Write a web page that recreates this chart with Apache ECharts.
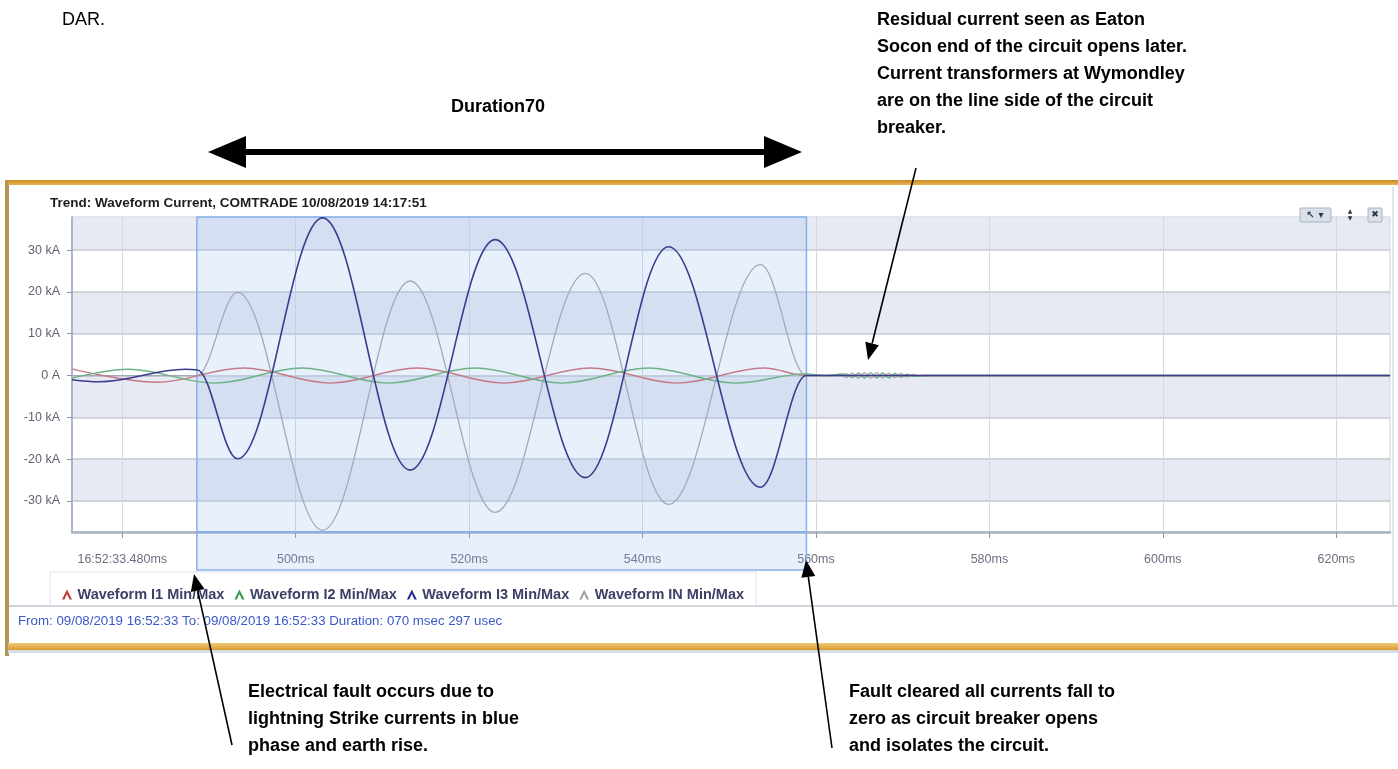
<!DOCTYPE html>
<html>
<head>
<meta charset="utf-8">
<script src="https://cdn.jsdelivr.net/npm/echarts@6/dist/echarts.min.js"></script>
<style>
html,body{margin:0;padding:0;background:#ffffff;}
#chart{width:1398px;height:769px;}
</style>
</head>
<body>
<div id="chart"></div>
<script>
// ---------- data (peaks / troughs, ms after 16:52:33, kA) ----------
const X_MIN = 474.2, X_MAX = 626.2;
const Y_MIN = -37.4, Y_MAX = 37.9;
const xTicks = [480, 500, 520, 540, 560, 580, 600, 620];
const xTickLabels = ['16:52:33.480ms', '500ms', '520ms', '540ms', '560ms', '580ms', '600ms', '620ms'];
const yTicks = [-30, -20, -10, 0, 10, 20, 30];
const yTickLabels = ['-30 kA', '-20 kA', '-10 kA', '0 A', '10 kA', '20 kA', '30 kA'];
const bandRanges = [[30, Y_MAX], [10, 20], [-10, 0], [-30, -20]];
const selectionRange = [488.6, 558.9];       // 070 msec 297 usec
const seriesNames = ['Waveform I1 Min/Max', 'Waveform I2 Min/Max', 'Waveform I3 Min/Max', 'Waveform IN Min/Max'];

const i1Times = [474.2, 484, 494, 504, 514, 524, 534, 544, 554, 558.9, 626.2];
const i1Values = [1.6, -1.6, 1.8, -1.8, 1.8, -1.8, 1.8, -1.8, 1.8, 0, 0];

const i2Times = [474.2, 480.7, 490.7, 500.7, 510.7, 520.7, 530.7, 540.7, 550.7, 558.9, 561, 563.5, 564.2, 564.9, 565.6, 566.3, 567.0, 567.7, 568.4, 569.1, 569.8, 570.5, 571.2, 572.5, 626.2];
const i2Values = [-0.6, 1.5, -1.8, 1.8, -1.8, 1.8, -1.8, 1.8, -1.8, 0.4, 0, 0.4, -0.5, 0.6, -0.6, 0.7, -0.6, 0.6, -0.6, 0.5, -0.4, 0.3, -0.2, 0, 0];

const i3Times = [474.2, 477.3, 487.3, 488.6, 493.3, 503.1, 513.2, 523.0, 533.4, 543.0, 553.6, 558.9, 626.2];
const i3Values = [-1.0, -1.5, 1.5, 1.4, -19.9, 37.7, -22.6, 32.5, -24.4, 30.8, -26.7, 0, 0];

const inTimes = [474.2, 488.6, 493.3, 503.1, 513.2, 523.0, 533.4, 543.0, 553.6, 558.9, 562, 562.8, 563.5, 564.2, 564.9, 565.6, 566.3, 567.0, 567.7, 568.4, 569.1, 569.8, 570.5, 571.2, 571.9, 573, 626.2];
const inValues = [0, 0, 19.9, -37.0, 22.6, -32.7, 24.4, -30.8, 26.5, 0, 0, 0.4, -0.5, 0.6, -0.7, 0.7, -0.7, 0.7, -0.6, 0.6, -0.5, 0.5, -0.4, 0.3, -0.2, 0, 0];

// ---------- styles ----------
const FONT = '"Liberation Sans", Arial, sans-serif';
const lineColors = ['#c47a88', '#6db287', '#3b3c8e', '#a6a8b8'];
const iconColors = ['#c0392b', '#2f9e4f', '#2b2d8a', '#a3a3a3'];
const lineWidths = [1.4, 1.4, 1.6, 1.3];
const zOrder = [5, 5, 6, 4];

function pairs(ts, vs) { return ts.map((t, i) => [t, vs[i]]); }
const waveData = [pairs(i1Times, i1Values), pairs(i2Times, i2Values), pairs(i3Times, i3Values), pairs(inTimes, inValues)];

const waveSeries = seriesNames.map((name, k) => ({
  name: name,
  type: 'line',
  xAxisIndex: 0, yAxisIndex: 0,
  data: waveData[k],
  showSymbol: false,
  smooth: 0.3634,
  smoothMonotone: 'x',
  z: zOrder[k],
  itemStyle: { color: iconColors[k] },
  lineStyle: { color: lineColors[k], width: lineWidths[k] },
  emphasis: { disabled: true },
  silent: true
}));

const bandSeries = {
  name: 'bands', type: 'line', xAxisIndex: 0, yAxisIndex: 0,
  data: [[X_MIN, 0]], showSymbol: false, lineStyle: { width: 0 }, silent: true, z: 1,
  markArea: {
    silent: true, z: 1,
    itemStyle: { color: 'rgba(216,221,234,0.62)' },
    data: bandRanges.map(r => [{ yAxis: r[0] }, { yAxis: r[1] }])
  }
};
const selStyle = { color: 'rgba(138,182,238,0.20)', borderColor: '#86b0ea', borderWidth: 1.5 };
const selSeries = {
  name: 'selection', type: 'line', xAxisIndex: 0, yAxisIndex: 0,
  data: [[X_MIN, 0]], showSymbol: false, lineStyle: { width: 0 }, silent: true, z: 3,
  markArea: { silent: true, z: 3, itemStyle: selStyle, data: [[{ xAxis: selectionRange[0] }, { xAxis: selectionRange[1] }]] }
};
const selSeries2 = {
  name: 'selection2', type: 'line', xAxisIndex: 1, yAxisIndex: 1,
  data: [[X_MIN, 0]], showSymbol: false, lineStyle: { width: 0 }, silent: true, z: 3,
  markArea: { silent: true, z: 3, itemStyle: selStyle, data: [[{ xAxis: selectionRange[0] }, { xAxis: selectionRange[1] }]] }
};

// ---------- annotation graphics ----------
const ANN = 'bold 18px "Liberation Sans", Arial, sans-serif';
function arrowHead(tip, from, len, half) {
  const dx = tip[0] - from[0], dy = tip[1] - from[1];
  const L = Math.sqrt(dx * dx + dy * dy), ux = dx / L, uy = dy / L;
  const bx = tip[0] - ux * len, by = tip[1] - uy * len;
  return { base: [bx, by], pts: [tip, [bx - uy * half, by + ux * half], [bx + uy * half, by - ux * half]] };
}
function thinArrow(from, tip) {
  const h = arrowHead(tip, from, 17, 7);
  return [
    { type: 'line', shape: { x1: from[0], y1: from[1], x2: h.base[0], y2: h.base[1] }, style: { stroke: '#000', lineWidth: 1.6 }, z: 100 },
    { type: 'polygon', shape: { points: h.pts }, style: { fill: '#000' }, z: 100 }
  ];
}

const graphics = [
  // panel frame
  { type: 'rect', shape: { x: 9, y: 185, width: 1389, height: 458 }, style: { fill: '#ffffff' }, z: -10 },
  { type: 'rect', shape: { x: 5, y: 180, width: 4, height: 476 }, style: { fill: '#b39558' }, z: 50 },
  { type: 'rect', shape: { x: 8, y: 180, width: 1390, height: 5 },
    style: { fill: new echarts.graphic.LinearGradient(0, 0, 0, 1, [{ offset: 0, color: '#c98a1e' }, { offset: 1, color: '#e8b45a' }]) }, z: 50 },
  { type: 'rect', shape: { x: 8, y: 643, width: 1390, height: 7 },
    style: { fill: new echarts.graphic.LinearGradient(0, 0, 0, 1, [{ offset: 0, color: '#f0c878' }, { offset: 1, color: '#d99a2e' }]) }, z: 50 },
  { type: 'rect', shape: { x: 8, y: 650, width: 1390, height: 3 }, style: { fill: '#d3dde6' }, z: 50 },
  { type: 'line', shape: { x1: 9, y1: 606, x2: 1398, y2: 606 }, style: { stroke: '#cfd3dc', lineWidth: 2 }, z: 50 },
  { type: 'line', shape: { x1: 1393, y1: 187, x2: 1393, y2: 606 }, style: { stroke: '#c4ccd8', lineWidth: 1 }, z: 50 },
  { type: 'rect', shape: { x: 50, y: 572, width: 706, height: 34 }, style: { fill: 'none', stroke: '#dfe2e8', lineWidth: 1 }, z: 50 },
  // title + footer
  { type: 'text', x: 50, y: 203, style: { text: 'Trend: Waveform Current, COMTRADE 10/08/2019 14:17:51', font: 'bold 13.5px "Liberation Sans", Arial, sans-serif', fill: '#1e1e1e', textVerticalAlign: 'middle' }, z: 50 },
  { type: 'text', x: 18, y: 621, style: { text: 'From: 09/08/2019 16:52:33 To: 09/08/2019 16:52:33 Duration: 070 msec 297 usec', font: '13.3px "Liberation Sans", Arial, sans-serif', fill: '#3b58c9', textVerticalAlign: 'middle' }, z: 50 },
  // toolbar icons
  { type: 'rect', shape: { x: 1300, y: 208, width: 31, height: 14, r: 1 }, style: { fill: '#d9e0ea', stroke: '#a9b2c0', lineWidth: 1 }, z: 60 },
  { type: 'text', x: 1315, y: 215, style: { text: '\u2196 \u25BE', font: 'bold 10px "DejaVu Sans", sans-serif', fill: '#2b3348', textAlign: 'center', textVerticalAlign: 'middle' }, z: 61 },
  { type: 'text', x: 1350, y: 215, style: { text: '\u25B2\n\u25BC', font: '6px "DejaVu Sans", sans-serif', lineHeight: 7, fill: '#2b3348', textAlign: 'center', textVerticalAlign: 'middle' }, z: 61 },
  { type: 'rect', shape: { x: 1368, y: 208, width: 14, height: 14, r: 1 }, style: { fill: '#d9e0ea', stroke: '#a9b2c0', lineWidth: 1 }, z: 60 },
  { type: 'text', x: 1375, y: 215, style: { text: '\u2716', font: '9px "DejaVu Sans", sans-serif', fill: '#2b3348', textAlign: 'center', textVerticalAlign: 'middle' }, z: 61 },
  // annotations
  { type: 'text', x: 62, y: 20, style: { text: 'DAR.', font: '18px "Liberation Sans", Arial, sans-serif', fill: '#000', textVerticalAlign: 'middle' }, z: 100 },
  { type: 'text', x: 498, y: 107, style: { text: 'Duration70', font: ANN, fill: '#000', textAlign: 'center', textVerticalAlign: 'middle' }, z: 100 },
  { type: 'polygon', shape: { points: [[208, 152], [246, 136], [246, 149], [764, 149], [764, 136], [802, 152], [764, 168], [764, 155], [246, 155], [246, 168]] }, style: { fill: '#000' }, z: 100 },
  { type: 'text', x: 877, y: 6.5, style: { text: 'Residual current seen as Eaton\nSocon end of the circuit opens later.\nCurrent transformers at Wymondley\nare on the line side of the circuit\nbreaker.', font: ANN, lineHeight: 27, fill: '#000', textVerticalAlign: 'top' }, z: 100 },
  { type: 'text', x: 248, y: 678.5, style: { text: 'Electrical fault occurs due to\nlightning Strike currents in blue\nphase and earth rise.', font: ANN, lineHeight: 27, fill: '#000', textVerticalAlign: 'top' }, z: 100 },
  { type: 'text', x: 849, y: 678.5, style: { text: 'Fault cleared all currents fall to\nzero as circuit breaker opens\nand isolates the circuit.', font: ANN, lineHeight: 27, fill: '#000', textVerticalAlign: 'top' }, z: 100 }
].concat(thinArrow([916, 168], [868, 360]), thinArrow([232, 745], [194, 574]), thinArrow([832, 748], [806, 560]));

// ---------- option ----------
const option = {
  animation: false,
  backgroundColor: '#ffffff',
  grid: [
    { left: 72, top: 217, width: 1318, height: 315, show: true, borderColor: '#c9d0dc', borderWidth: 1, backgroundColor: 'transparent', containLabel: false },
    { left: 72, top: 532, width: 1318, height: 38, show: false, containLabel: false }
  ],
  xAxis: [
    {
      type: 'value', gridIndex: 0, min: X_MIN, max: X_MAX, z: 2,
      axisLine: { show: true, onZero: false, lineStyle: { color: '#aab2c2', width: 2.5 } },
      axisTick: { show: true, customValues: xTicks, length: 6, lineStyle: { color: '#8e97a8', width: 1 } },
      axisLabel: { customValues: xTicks, formatter: v => { const i = xTicks.indexOf(v); return i >= 0 ? xTickLabels[i] : ''; },
        margin: 21, color: '#6b7080', fontSize: 12.5, fontFamily: FONT },
      splitLine: { show: true, lineStyle: { color: '#d4d8e0', width: 1 } }
    },
    { type: 'value', gridIndex: 1, min: X_MIN, max: X_MAX, show: false }
  ],
  yAxis: [
    {
      type: 'value', gridIndex: 0, min: Y_MIN, max: Y_MAX, z: 2,
      axisLine: { show: true, onZero: false, lineStyle: { color: '#9aa6bc', width: 1.5 } },
      axisTick: { show: true, customValues: yTicks, length: 5, lineStyle: { color: '#8e97a8', width: 1 } },
      axisLabel: { customValues: yTicks, formatter: v => { const i = yTicks.indexOf(v); return i >= 0 ? yTickLabels[i] : ''; },
        margin: 12, color: '#5e6372', fontSize: 12.5, fontFamily: FONT },
      splitLine: { show: true, lineStyle: { color: '#c3c8d2', width: 1.5 } }
    },
    { type: 'value', gridIndex: 1, min: 0, max: 1, show: false }
  ],
  legend: {
    data: seriesNames,
    left: 57, top: 582,
    itemWidth: 11, itemHeight: 10, itemGap: 10,
    icon: 'path://M0,10 L5,0 L10,10 L7.6,10 L5,4.6 L2.4,10 Z',
    selectedMode: false,
    textStyle: { color: '#3c4166', fontSize: 14.5, fontWeight: 'bold', fontFamily: FONT }
  },
  series: [bandSeries, selSeries, selSeries2].concat(waveSeries),
  graphic: { elements: graphics }
};

const chart = echarts.init(document.getElementById('chart'), null, { renderer: 'canvas' });
chart.setOption(option);
</script>
</body>
</html>
